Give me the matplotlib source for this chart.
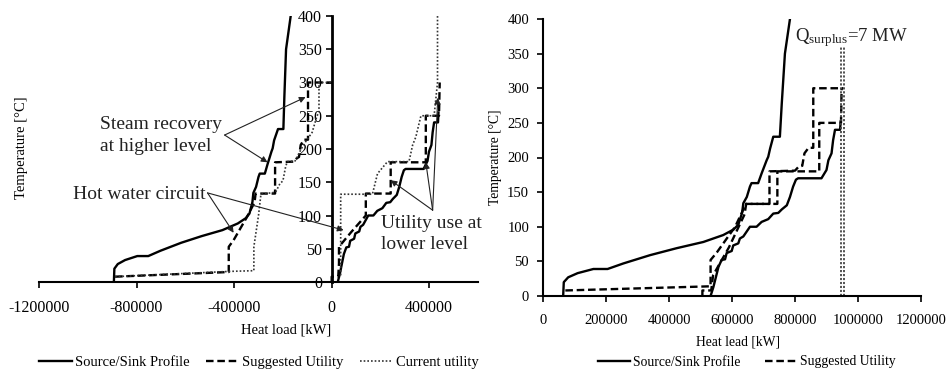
import matplotlib
matplotlib.use("Agg")
import matplotlib.pyplot as plt

plt.rcParams['font.family'] = ['Liberation Serif', 'DejaVu Serif']
plt.rcParams['mathtext.fontset'] = 'custom'
plt.rcParams['mathtext.rm'] = 'Liberation Serif'
plt.rcParams['mathtext.it'] = 'Liberation Serif:italic'

# ---------------- Left panel data ----------------
L_hot_x = [-893000, -891000, -877000, -847000, -797000, -752000, -702000, -617000, -533000,
           -448000, -385000, -352000, -337000, -325000, -321000, -310000, -300000, -295000,
           -274000, -263000, -247000, -242000, -236000, -220000, -198000, -194000, -187000, -168000]
L_hot_y = [0, 20, 27, 33, 39, 39, 47, 59, 69, 78, 88, 96, 103, 120, 134, 143, 158, 163,
           163, 177, 196, 201, 213, 230, 230, 278, 350, 400]

L_cold_x = [25000, 34000, 50000, 60000, 71000, 76000, 92000, 97000, 113000, 118000, 129000,
            150000, 171000, 187000, 208000, 224000, 240000, 251000, 267000, 277000, 287000,
            296000, 303000, 377000, 393000, 399000, 409000, 414000, 420000, 436000, 438000]
L_cold_y = [0, 13, 42, 52, 53, 62, 65, 73, 76, 83, 86, 100, 100, 107, 111, 119, 120, 125,
            131, 143, 158, 168, 170, 170, 182, 196, 206, 225, 240, 240, 255]

L_sug_hot_x = [-888000, -422000, -422000, -402000, -347000, -316000, -312000, -232000, -232000,
               -155000, -143000, -134000, -127000, -114000, -97000, -97000, 0]
L_sug_hot_y = [8, 15, 53, 63, 98, 120, 133, 133, 180, 181, 186, 188, 206, 214, 214, 300, 300]

L_sug_cold_x = [0, 0, 27000, 30000, 30000, 80000, 140000, 140000, 242000, 242000, 386000,
                386000, 440000, 443000]
L_sug_cold_y = [0, 8, 8, 28, 53, 75, 100, 133, 133, 180, 180, 250, 250, 300]

L_cur_hot_x = [-888000, -415000, -319000, -319000, -300000, -290000, -230000, -212000, -200000,
               -189000, -182000, -150000, -125000, -105000, -80000, -60000, -52000, -52000, 0]
L_cur_hot_y = [8, 16, 17, 53, 100, 132, 135, 148, 152, 173, 181, 182, 200, 212, 225, 250, 255,
               300, 300]

L_cur_cold_x = [37000, 37000, 167000, 188000, 229000, 317000, 332000, 345000, 366000, 420000,
                434000, 434000]
L_cur_cold_y = [10, 132, 132, 163, 181, 181, 206, 218, 250, 250, 300, 400]

# ---------------- Right panel data ----------------
R_hot_x = [64000, 66000, 80000, 110000, 160000, 205000, 255000, 340000, 424000, 509000, 572000,
           605000, 620000, 632000, 636000, 647000, 657000, 662000, 683000, 694000, 710000,
           715000, 721000, 731000, 752000, 758000, 768000, 784000]
R_hot_y = [0, 20, 27, 33, 39, 39, 47, 59, 69, 78, 88, 96, 103, 120, 134, 143, 158, 163, 163,
           177, 196, 201, 213, 230, 230, 278, 350, 400]

R_cold_x = [532000, 541000, 557000, 567000, 578000, 583000, 599000, 604000, 620000, 625000,
            636000, 657000, 678000, 694000, 715000, 731000, 747000, 758000, 774000, 784000,
            794000, 803000, 810000, 884000, 900000, 906000, 916000, 921000, 927000, 943000, 945000]
R_cold_y = [0, 13, 42, 52, 53, 62, 65, 73, 76, 83, 86, 100, 100, 107, 111, 119, 120, 125, 131,
            143, 158, 168, 170, 170, 182, 196, 206, 225, 240, 240, 252]

R_sug_hot_x = [71000, 532000, 532000, 552000, 610000, 636000, 641000, 719000, 719000, 800000,
               812000, 823000, 830000, 843000, 858000, 858000, 953000]
R_sug_hot_y = [8, 14, 52, 63, 100, 125, 133, 133, 180, 181, 187, 188, 206, 214, 214, 300, 300]

R_sug_cold_x = [506000, 506000, 534000, 540000, 590000, 640000, 645000, 744000, 744000,
                877000, 877000, 946000, 948000]
R_sug_cold_y = [0, 8, 8, 30, 70, 118, 133, 133, 180, 180, 250, 250, 300]

R_surplus_x = [946000, 956000]
R_surplus_top = 360

yticks = [0, 50, 100, 150, 200, 250, 300, 350, 400]
L_xticks = [-1200000, -800000, -400000, 0, 400000]
R_xticks = [0, 200000, 400000, 600000, 800000, 1000000, 1200000]

fig = plt.figure(figsize=(9.46, 3.72), dpi=100)

solid_kw = dict(color='black', lw=1.7, linestyle='-')
dash_kw = dict(color='black', lw=1.7, linestyle=(0, (3.2, 1.6)))
dot_kw = dict(color='#333333', lw=1.2, linestyle=(0, (1, 1.2)))

TS_L = 11.5
LS_L = 10.5
TS_R = 10.5
LS_R = 9.8

# ---------- Left axes ----------
axL = fig.add_axes([39 / 946, 1 - 282 / 372, 439 / 946, 266 / 372])
axL.plot(L_hot_x, L_hot_y, **solid_kw, label='Source/Sink Profile')
axL.plot(L_cold_x, L_cold_y, **solid_kw)
axL.plot(L_sug_hot_x, L_sug_hot_y, **dash_kw, label='Suggested Utility')
axL.plot(L_sug_cold_x, L_sug_cold_y, **dash_kw)
axL.plot(L_cur_hot_x, L_cur_hot_y, **dot_kw, label='Current utility')
axL.plot(L_cur_cold_x, L_cur_cold_y, **dot_kw)
axL.set_xlim(-1200000, 600000)
axL.set_ylim(0, 400)
axL.spines['left'].set_position(('data', 0))
axL.spines['bottom'].set_position(('data', 0))
axL.spines['top'].set_visible(False)
axL.spines['right'].set_visible(False)
axL.spines['left'].set_linewidth(2.0)
axL.spines['bottom'].set_linewidth(1.5)
axL.set_xticks(L_xticks)
axL.set_xticklabels([str(v) for v in L_xticks])
axL.set_yticks(yticks)
axL.tick_params(axis='x', direction='out', length=4, width=1.2, pad=9, labelsize=TS_L)
axL.tick_params(axis='y', direction='out', length=4, width=1.2, pad=3, labelsize=TS_L)
axL.patch.set_alpha(0)

arrow_kw = dict(arrowstyle='-|>', lw=0.8, color='#222222', mutation_scale=9,
                shrinkA=0, shrinkB=0)
ann_col = '#222222'
AS = 14

axL.text(-950000, 249, 'Steam recovery\nat higher level', fontsize=AS, color=ann_col,
         ha='left', va='top', linespacing=1.35)
for tip in [(-107000, 278), (-263000, 180)]:
    axL.annotate('', xy=tip, xytext=(-439000, 221), arrowprops=arrow_kw)

axL.text(-1060000, 132, 'Hot water circuit', fontsize=AS, color=ann_col,
         ha='left', va='center')
for tip in [(-402000, 74), (49000, 78)]:
    axL.annotate('', xy=tip, xytext=(-509000, 134), arrowprops=arrow_kw)

axL.text(201000, 101, 'Utility use at\nlower level', fontsize=AS, color=ann_col,
         ha='left', va='top', linespacing=1.35, clip_on=False)
for tip in [(242000, 153), (386000, 180), (435000, 277)]:
    axL.annotate('', xy=tip, xytext=(414000, 108), arrowprops=arrow_kw)

fig.text(286 / 946, 1 - 330 / 372, 'Heat load [kW]', fontsize=LS_L, ha='center', va='center')
fig.text(22 / 946, 1 - 148 / 372, 'Temperature [°C]', fontsize=LS_L, ha='center',
         va='center', rotation=90)

hL, lL = axL.get_legend_handles_labels()
fig.legend(hL, lL, loc='center', bbox_to_anchor=(259 / 946, 1 - 362 / 372), ncol=3,
           frameon=False, fontsize=LS_L, handlelength=2.3, handletextpad=0.2,
           columnspacing=1.1, borderpad=0)

# ---------- Right axes ----------
axR = fig.add_axes([543 / 946, 1 - 296 / 372, 378 / 946, 277 / 372])
axR.plot(R_hot_x, R_hot_y, **solid_kw, label='Source/Sink Profile')
axR.plot(R_cold_x, R_cold_y, **solid_kw)
axR.plot(R_sug_hot_x, R_sug_hot_y, **dash_kw, label='Suggested Utility')
axR.plot(R_sug_cold_x, R_sug_cold_y, **dash_kw)
for xv in R_surplus_x:
    axR.plot([xv, xv], [0, R_surplus_top], color='#444444', lw=1.3, linestyle=(0, (1.2, 1)))
axR.set_xlim(0, 1200000)
axR.set_ylim(0, 400)
axR.spines['top'].set_visible(False)
axR.spines['right'].set_visible(False)
axR.spines['left'].set_linewidth(1.5)
axR.spines['bottom'].set_linewidth(1.5)
axR.set_xticks(R_xticks)
axR.set_xticklabels([str(v) for v in R_xticks])
axR.set_yticks(yticks)
axR.tick_params(axis='x', direction='out', length=4, width=1.2, pad=9, labelsize=TS_R)
axR.tick_params(axis='y', direction='out', length=4, width=1.2, pad=6, labelsize=TS_R)
axR.patch.set_alpha(0)

axR.text(800000, 368, r'$\mathrm{Q}_{\mathrm{surplus}}$=7 MW', fontsize=13.5, color=ann_col,
         ha='left', va='baseline')

fig.text(738 / 946, 1 - 342 / 372, 'Heat lead [kW]', fontsize=LS_R, ha='center', va='center')
fig.text(495 / 946, 1 - 157 / 372, 'Temperature [°C]', fontsize=LS_R, ha='center',
         va='center', rotation=90)

hR, lR = axR.get_legend_handles_labels()
fig.legend(hR, lR, loc='center', bbox_to_anchor=(747 / 946, 1 - 362 / 372), ncol=2,
           frameon=False, fontsize=LS_R, handlelength=2.4, handletextpad=0.2,
           columnspacing=1.8, borderpad=0)

fig.savefig('out.png', dpi=100)
